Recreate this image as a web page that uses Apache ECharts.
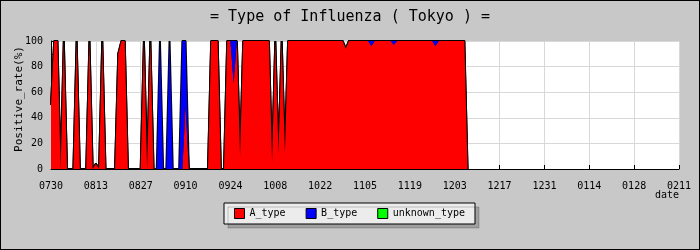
<!DOCTYPE html>
<html>
<head>
<meta charset="utf-8">
<script src="https://cdn.jsdelivr.net/npm/echarts@6/dist/echarts.min.js"></script>
<style>
html,body{margin:0;padding:0;background:#c8c8c8;}
#chart{width:700px;height:250px;box-sizing:border-box;border:1px solid #000;}
</style>
</head>
<body>
<div id="chart"></div>
<script>
// Tick labels shown on the date axis (every 14 days)
var tickLabels = ['0730','0813','0827','0910','0924','1008','1022','1105','1119','1203','1217','1231','0114','0128','0211'];
// Daily categories 2009-07-30 .. 2010-02-11
var categories = [];
(function(){
  var d = new Date(2009, 6, 30);
  var end = new Date(2010, 1, 11);
  while (d <= end) {
    var m = ('0' + (d.getMonth() + 1)).slice(-2);
    var dd = ('0' + d.getDate()).slice(-2);
    categories.push(m + dd);
    d.setDate(d.getDate() + 1);
  }
})();

// Positive rate (%) per day
var aType = [
  50,100,100,0,100,0,0,0,100,0,
  0,0,100,0,4,0,100,0,0,0,
  0,90,100,100,0,0,0,0,0,100,
  0,100,0,0,0,0,0,0,0,0,
  0,0,50,0,0,0,0,0,0,0,
  100,100,100,0,0,100,100,67,100,10,
  100,100,100,100,100,100,100,100,100,5,
  100,12,100,12,100,100,100,100,100,100,
  100,100,100,100,100,100,100,100,100,100,
  100,100,94,100,100,100,100,100,100,100,
  96,100,100,100,100,100,100,97,100,100,
  100,100,100,100,100,100,100,100,100,100,
  96,100,100,100,100,100,100,100,100,100,
  0
];
var bType = [
  0,0,0,0,0,0,0,0,0,0,
  0,0,0,0,0,0,0,0,0,0,
  0,0,0,0,0,0,0,0,0,0,
  0,0,0,0,100,0,0,100,0,0,
  0,100,50,0,0,0,0,0,0,0,
  0,0,0,0,0,0,0,33,0,0,
  0,0,0,0,0,0,0,0,0,0,
  0,0,0,0,0,0,0,0,0,0,
  0,0,0,0,0,0,0,0,0,0,
  0,0,0,0,0,0,0,0,0,0,
  4,0,0,0,0,0,0,3,0,0,
  0,0,0,0,0,0,0,0,0,0,
  4,0,0,0,0,0,0,0,0,0,
  0
];
var unknownType = [];

var seriesNames = ['A_type','B_type','unknown_type'];
var seriesColors = ['#ff0000','#0000ff','#00ff00'];
var seriesData = [aType, bType, unknownType];

var FONT = 'DejaVu Sans Mono';
function isTick(idx, val){ return tickLabels.indexOf(categories[idx]) >= 0; }

var series = [];
// black outlines, drawn beneath the fills so thin spikes keep their colour
seriesData.forEach(function(arr, i){
  series.push({
    name: seriesNames[i] + '_outline', type: 'line', stack: 'outline', data: arr,
    symbol: 'none', showSymbol: false, silent: true,
    lineStyle: {color: '#000', width: 2},
    z: 1
  });
});
seriesData.forEach(function(arr, i){
  series.push({
    name: seriesNames[i], type: 'line', stack: 'total', data: arr,
    symbol: 'none', showSymbol: false,
    itemStyle: {color: seriesColors[i], borderColor: '#000', borderWidth: 1},
    lineStyle: {width: 0, opacity: 0},
    areaStyle: {color: seriesColors[i], opacity: 1},
    z: 2
  });
});

var chart = echarts.init(document.getElementById('chart'), null, {renderer:'canvas'});
chart.setOption({
  backgroundColor: '#c8c8c8',
  animation: false,
  title: {
    text: '= Type of Influenza ( Tokyo ) =',
    left: 'center', top: 4,
    textStyle: {fontFamily: FONT, fontSize: 15, fontWeight: 'normal', color: '#000'}
  },
  legend: {
    left: 223, top: 202,
    data: seriesNames.map(function(n){ return {name:n, icon:'rect', itemStyle:{borderColor:'#000',borderWidth:1}}; }),
    itemWidth: 10, itemHeight: 10, itemGap: 20,
    padding: [5, 10, 5, 10],
    backgroundColor: '#ececec', borderColor: '#000', borderWidth: 1,
    shadowColor: 'rgba(0,0,0,0.2)', shadowOffsetX: 4, shadowOffsetY: 4, shadowBlur: 0,
    textStyle: {fontFamily: FONT, fontSize: 10, color: '#000', padding: [0,0,0,0]}
  },
  grid: {left: 50, right: 20, top: 40, bottom: 80, show: true, backgroundColor: '#fff', borderWidth: 0, outerBoundsMode: 'none'},
  xAxis: {
    type: 'category', boundaryGap: false, data: categories,
    name: 'date', nameLocation: 'end', nameGap: 0, nameMoveOverlap: false,
    nameTextStyle: {fontFamily: FONT, fontSize: 10, color: '#000', align: 'right', verticalAlign: 'top', padding: [21,0,0,0]},
    axisLine: {show: true, lineStyle: {color: '#000', width: 1}},
    axisTick: {show: true, inside: true, length: 4, interval: isTick, lineStyle: {color: '#000'}},
    axisLabel: {interval: isTick, fontFamily: FONT, fontSize: 10, color: '#000', margin: 12},
    splitLine: {show: true, interval: isTick, lineStyle: {color: '#d8d8d8', width: 1}}
  },
  yAxis: {
    type: 'value', min: 0, max: 100, interval: 20,
    name: 'Positive_rate(%)', nameLocation: 'middle', nameGap: 26, nameMoveOverlap: false,
    nameTextStyle: {fontFamily: FONT, fontSize: 11, color: '#000', padding: [0,0,0,12]},
    axisLine: {show: true, lineStyle: {color: '#000', width: 1}},
    axisTick: {show: true, inside: true, length: 3, lineStyle: {color: '#000'}},
    minorTick: {show: true, splitNumber: 2, length: 2, lineStyle: {color: '#000'}},
    axisLabel: {fontFamily: FONT, fontSize: 10, color: '#000', margin: 8},
    splitLine: {show: true, lineStyle: {color: '#d8d8d8', width: 1}}
  },
  series: series
});
</script>
</body>
</html>
